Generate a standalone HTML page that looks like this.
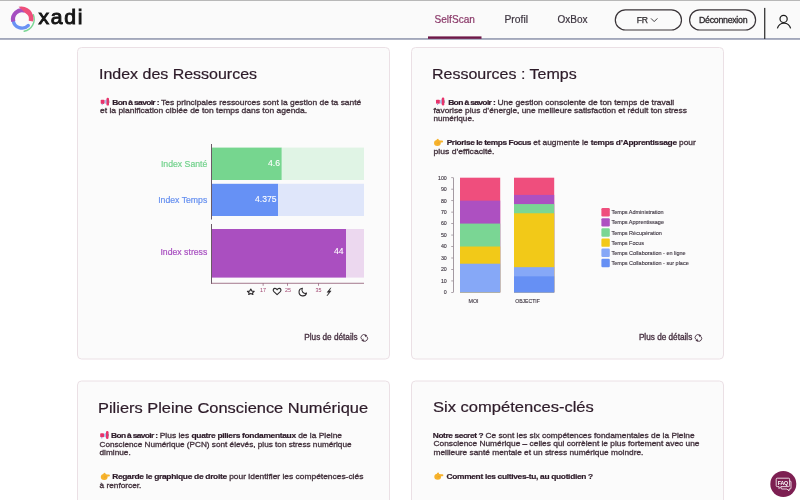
<!DOCTYPE html>
<html><head><meta charset="utf-8">
<style>
*{margin:0;padding:0}
html,body{width:800px;height:500px;overflow:hidden;background:#fff}
svg{position:absolute;left:0;top:0;font-family:"Liberation Sans",sans-serif;will-change:transform}
.t{font-size:14.8px;fill:#2d1b29;stroke:#2d1b29;stroke-width:0.2px}
.p{font-size:7.75px;fill:#45343f;stroke:#45343f;stroke-width:0.32px}
.b{font-weight:bold;fill:#2d1b29;stroke:#2d1b29;stroke-width:0.2px;letter-spacing:-0.28px}
</style></head><body>
<svg width="800" height="500" viewBox="0 0 800 500">

<defs>
<g id="mega">
  <path d="M4.4 2.7 L6.9 1.4 L6.9 6.6 L4.4 5.3 Z" fill="#aebde6"/>
  <rect x="0.7" y="2" width="3.8" height="4.1" rx="0.8" fill="#e8336b"/>
  <rect x="1.7" y="5.8" width="1.1" height="1.5" fill="#9fb0e0"/>
  <rect x="6.5" y="-0.1" width="2.5" height="7.9" rx="1.2" fill="#e8336b"/>
  <rect x="8.7" y="2.6" width="0.6" height="2.6" fill="#7a6a7e"/>
</g>
<g id="hand">
  <ellipse cx="3.4" cy="4.5" rx="3.4" ry="3" fill="#f6b22c"/>
  <rect x="3.4" y="1.9" width="5.7" height="2.1" rx="1.05" fill="#f6b22c"/>
  <path d="M2 2.6 Q3 -0.5 4.5 0.4 Q5 1.6 4.8 2.9 Z" fill="#f6b22c"/>
  <path d="M3.3 4.7 Q4.4 4.1 5.6 4.4" stroke="#dd9020" stroke-width="0.45" fill="none"/>
</g>
</defs>
<!-- header -->
<rect x="0" y="0" width="800" height="39.5" fill="#fafafa"/>
<rect x="0" y="0" width="800" height="0.8" fill="#a8a8a8"/>
<rect x="0" y="38.2" width="800" height="1.5" fill="#8d93ab"/>

<!-- logo -->

<g fill="none">
<path d="M33.31 14.63 A12.2 12.2 0 0 1 24.12 31.21" stroke="#7ad694" stroke-width="1.4" stroke-linecap="round"/>
<path d="M28.29 25.49 A8.9 8.9 0 0 1 13.19 20.44" stroke="#6a92f4" stroke-width="3.3" stroke-linecap="round"/>
<path d="M13.31 21.53 A9 9 0 0 1 25.37 10.86" stroke="#a54fc0" stroke-width="4.2"/>
<path d="M18.58 6.78 A12 12 0 0 1 33.05 21.55 L28.75 20.63 A6.9 6.9 0 0 0 25.24 13.11 Z" fill="#ee4f7a"/>
</g>
<text transform="translate(38.4 23.9) scale(1.07 1)" x="0" y="0" font-size="19.8" fill="#141414" stroke="#141414" stroke-width="0.9" letter-spacing="1.6">xadi</text>

<!-- nav -->
<text x="434.5" y="22.9" font-size="10.1" fill="#8b3a6a" stroke="#8b3a6a" stroke-width="0.2">SelfScan</text>
<rect x="428" y="36.4" width="53.5" height="2.4" fill="#6e1848"/>
<text x="504.5" y="22.9" font-size="10.3" fill="#3d3540" stroke="#3d3540" stroke-width="0.2">Profil</text>
<text x="557.5" y="22.9" font-size="10" fill="#3d3540" stroke="#3d3540" stroke-width="0.2">OxBox</text>
<rect x="615.3" y="9.8" width="66.2" height="20.2" rx="10.1" fill="none" stroke="#3a3438" stroke-width="1.2"/>
<text x="636.8" y="22.8" font-size="8.6" fill="#2e2a2e" stroke="#2e2a2e" stroke-width="0.25" letter-spacing="-0.4">FR</text>
<path d="M651 18.4 L654.2 21.6 L657.4 18.4" fill="none" stroke="#2e2a2e" stroke-width="0.9"/>
<rect x="689.6" y="9.8" width="66" height="20.2" rx="10.1" fill="none" stroke="#3a3438" stroke-width="1.2"/>
<text x="699" y="22.8" font-size="8.8" fill="#2e2a2e" stroke="#2e2a2e" stroke-width="0.3" letter-spacing="-0.28">Déconnexion</text>
<rect x="764.2" y="7.9" width="1.1" height="31" fill="#141414"/>
<circle cx="783.6" cy="18.9" r="3.6" fill="none" stroke="#1a1a1a" stroke-width="1.2"/>
<path d="M777.4 28.4 A6.8 6.8 0 0 1 790.6 28.4" fill="none" stroke="#1a1a1a" stroke-width="1.2"/>

<!-- cards -->
<rect x="77.5" y="47.5" width="312" height="311.5" rx="4" fill="#fbfbfb" stroke="#ebe0e5" stroke-width="1"/>
<rect x="411.5" y="47.5" width="312" height="311.5" rx="4" fill="#fbfbfb" stroke="#ebe0e5" stroke-width="1"/>
<rect x="77.5" y="381" width="312" height="140" rx="4" fill="#fbfbfb" stroke="#ebe0e5" stroke-width="1"/>
<rect x="411.5" y="381" width="312" height="140" rx="4" fill="#fbfbfb" stroke="#ebe0e5" stroke-width="1"/>

<!-- titles -->
<text class="t" transform="translate(99.00 78.5) scale(1.0800 1)" x="0" y="0">Index des Ressources</text>
<text class="t" transform="translate(432.00 78.6) scale(1.0831 1)" x="0" y="0">Ressources : Temps</text>
<text class="t" transform="translate(98.00 412.5) scale(1.1098 1)" x="0" y="0">Piliers Pleine Conscience Numérique</text>
<text class="t" transform="translate(433.00 412.3) scale(1.1179 1)" x="0" y="0">Six compétences-clés</text>

<!-- card1 text -->
<text class="p" transform="translate(112.22 104.9) scale(1.0905 1)" x="0" y="0"><tspan class="b" style="letter-spacing:-0.6px">Bon à savoir :</tspan> Tes principales ressources sont la gestion de ta santé</text>
<text class="p" transform="translate(100.00 113.3) scale(1.0960 1)" x="0" y="0">et la planification ciblée de ton temps dans ton agenda.</text>

<!-- card2 text -->
<text class="p" transform="translate(448.14 104.8) scale(1.0995 1)" x="0" y="0"><tspan class="b" style="letter-spacing:-0.6px">Bon à savoir :</tspan> Une gestion consciente de ton temps de travail</text>
<text class="p" transform="translate(433.50 113.2) scale(1.0792 1)" x="0" y="0">favorise plus d’énergie, une meilleure satisfaction et réduit ton stress</text>
<text class="p" transform="translate(433.50 121.3) scale(1.0493 1)" x="0" y="0">numérique.</text>
<text class="p" transform="translate(446.72 145.3) scale(1.0783 1)" x="0" y="0"><tspan class="b" style="letter-spacing:-0.4px">Priorise le temps Focus</tspan> et augmente le <tspan class="b">temps d’Apprentissage</tspan> pour</text>
<text class="p" transform="translate(433.50 153.7) scale(1.1100 1)" x="0" y="0">plus d’efficacité.</text>

<!-- card3 text -->
<text class="p" transform="translate(111.00 438.3) scale(1.0847 1)" x="0" y="0"><tspan class="b" style="letter-spacing:-0.6px">Bon à savoir :</tspan> Plus les <tspan class="b">quatre piliers fondamentaux</tspan> de la Pleine</text>
<text class="p" transform="translate(99.50 446.6) scale(1.0564 1)" x="0" y="0">Conscience Numérique (PCN) sont élevés, plus ton stress numérique</text>
<text class="p" transform="translate(99.50 454.8) scale(1.0677 1)" x="0" y="0">diminue.</text>
<text class="p" transform="translate(112.14 479.2) scale(1.0878 1)" x="0" y="0"><tspan class="b">Regarde le graphique de droite</tspan> pour identifier les compétences-clés</text>
<text class="p" transform="translate(99.50 487.5) scale(1.0710 1)" x="0" y="0">à renforcer.</text>

<!-- card4 text -->
<text class="p" transform="translate(432.78 437.9) scale(1.0775 1)" x="0" y="0"><tspan class="b" style="letter-spacing:-0.38px">Notre secret ?</tspan> Ce sont les six compétences fondamentales de la Pleine</text>
<text class="p" transform="translate(433.50 446.3) scale(1.0800 1)" x="0" y="0">Conscience Numérique – celles qui corrèlent le plus fortement avec une</text>
<text class="p" transform="translate(433.50 454.6) scale(1.0749 1)" x="0" y="0">meilleure santé mentale et un stress numérique moindre.</text>
<text class="p" transform="translate(446.50 479) scale(1.0800 1)" x="0" y="0"><tspan class="b">Comment les cultives-tu, au quotidien ?</tspan></text>


<!-- chart1 -->
<text x="207.3" y="166.6" font-size="8.7" fill="#72d28c" stroke="#72d28c" stroke-width="0.2" text-anchor="end">Index Santé</text>
<text x="207.3" y="202.6" font-size="8.7" fill="#6690f0" stroke="#6690f0" stroke-width="0.2" text-anchor="end">Index Temps</text>
<text x="207.3" y="254.7" font-size="8.7" fill="#a84fc0" stroke="#a84fc0" stroke-width="0.2" text-anchor="end">Index stress</text>
<rect x="211" y="144" width="1" height="75.5" fill="#6a5a66"/>
<rect x="212" y="147.6" width="69.8" height="32.4" fill="#76d68f"/>
<rect x="281.8" y="147.6" width="82.2" height="32.4" fill="#e0f4e5"/>
<rect x="212" y="183.8" width="66.2" height="32.2" fill="#6691f5"/>
<rect x="278.2" y="183.8" width="85.8" height="32.2" fill="#dfe6fa"/>
<rect x="211" y="224" width="1" height="60" fill="#6a5a66"/>
<rect x="212" y="229" width="134" height="48.6" fill="#aa4fc0"/>
<rect x="346" y="229" width="18" height="48.6" fill="#ecd8ef"/>
<rect x="211" y="282.8" width="153" height="0.9" fill="#9a6a80"/>
<rect x="262.7" y="283" width="0.8" height="2.8" fill="#9a6a80"/>
<rect x="287.1" y="283" width="0.8" height="2.8" fill="#9a6a80"/>
<rect x="318" y="283" width="0.8" height="2.8" fill="#9a6a80"/>
<text x="280" y="165.8" font-size="8.6" fill="#fff" stroke="#fff" stroke-width="0.1" text-anchor="end">4.6</text>
<text x="276.5" y="201.6" font-size="8.6" fill="#fff" stroke="#fff" stroke-width="0.1" text-anchor="end">4.375</text>
<text x="343.5" y="254.2" font-size="8.6" fill="#fff" stroke="#fff" stroke-width="0.1" text-anchor="end">44</text>
<text x="263.1" y="291.6" font-size="5.4" fill="#a0456f" text-anchor="middle">17</text>
<text x="288.1" y="291.6" font-size="5.4" fill="#a0456f" text-anchor="middle">25</text>
<text x="318.5" y="291.6" font-size="5.4" fill="#a0456f" text-anchor="middle">35</text>


<g fill="none" stroke="#2d2a2d" stroke-width="1.1" stroke-linejoin="round" stroke-linecap="round">
<path d="M250.8 289 L251.9 291.1 L254.2 291.3 L252.6 292.9 L252.9 294.5 L250.8 293.4 L248.7 294.5 L249.1 292.9 L247.4 291.3 L249.7 291.1 Z"/>
<path d="M277.1 294.6 L273.9 291.6 C272.6 290.3 273.3 288.4 275 288.4 C276 288.4 276.7 289.1 277.1 289.8 C277.5 289.1 278.2 288.4 279.2 288.4 C280.9 288.4 281.6 290.3 280.3 291.6 Z"/>
<path d="M302.4 288.3 A3.8 3.8 0 1 0 306.5 293.1 A3.3 3.3 0 0 1 302.4 288.3 Z"/>
</g>
<path d="M330.8 287.8 L327.1 292.3 L329.1 292.3 L327 295.9 L331.1 290.9 L329.2 290.9 Z" fill="#2d2a2d" stroke="#2d2a2d" stroke-width="0.5" stroke-linejoin="round"/>


<!-- chart2 -->
<rect x="453" y="177.6" width="0.9" height="114.8" fill="#9a8f98"/>
<rect x="451.2" y="292.00" width="2" height="0.8" fill="#9a8f98"/>
<text x="446.8" y="294.30" font-size="5.3" fill="#3d3540" stroke="#3d3540" stroke-width="0.12" text-anchor="end">0</text>
<rect x="451.2" y="280.53" width="2" height="0.8" fill="#9a8f98"/>
<text x="446.8" y="282.83" font-size="5.3" fill="#3d3540" stroke="#3d3540" stroke-width="0.12" text-anchor="end">10</text>
<rect x="451.2" y="269.06" width="2" height="0.8" fill="#9a8f98"/>
<text x="446.8" y="271.36" font-size="5.3" fill="#3d3540" stroke="#3d3540" stroke-width="0.12" text-anchor="end">20</text>
<rect x="451.2" y="257.59" width="2" height="0.8" fill="#9a8f98"/>
<text x="446.8" y="259.89" font-size="5.3" fill="#3d3540" stroke="#3d3540" stroke-width="0.12" text-anchor="end">30</text>
<rect x="451.2" y="246.12" width="2" height="0.8" fill="#9a8f98"/>
<text x="446.8" y="248.42" font-size="5.3" fill="#3d3540" stroke="#3d3540" stroke-width="0.12" text-anchor="end">40</text>
<rect x="451.2" y="234.65" width="2" height="0.8" fill="#9a8f98"/>
<text x="446.8" y="236.95" font-size="5.3" fill="#3d3540" stroke="#3d3540" stroke-width="0.12" text-anchor="end">50</text>
<rect x="451.2" y="223.18" width="2" height="0.8" fill="#9a8f98"/>
<text x="446.8" y="225.48" font-size="5.3" fill="#3d3540" stroke="#3d3540" stroke-width="0.12" text-anchor="end">60</text>
<rect x="451.2" y="211.71" width="2" height="0.8" fill="#9a8f98"/>
<text x="446.8" y="214.01" font-size="5.3" fill="#3d3540" stroke="#3d3540" stroke-width="0.12" text-anchor="end">70</text>
<rect x="451.2" y="200.24" width="2" height="0.8" fill="#9a8f98"/>
<text x="446.8" y="202.54" font-size="5.3" fill="#3d3540" stroke="#3d3540" stroke-width="0.12" text-anchor="end">80</text>
<rect x="451.2" y="188.77" width="2" height="0.8" fill="#9a8f98"/>
<text x="446.8" y="191.07" font-size="5.3" fill="#3d3540" stroke="#3d3540" stroke-width="0.12" text-anchor="end">90</text>
<rect x="451.2" y="177.30" width="2" height="0.8" fill="#9a8f98"/>
<text x="446.8" y="179.60" font-size="5.3" fill="#3d3540" stroke="#3d3540" stroke-width="0.12" text-anchor="end">100</text>
<rect x="460" y="177.70" width="40.2" height="114.70" fill="#ef4e7d"/>
<rect x="460" y="200.64" width="40.2" height="91.76" fill="#ad50c1"/>
<rect x="460" y="223.58" width="40.2" height="68.82" fill="#7ad694"/>
<rect x="460" y="246.52" width="40.2" height="45.88" fill="#f2c918"/>
<rect x="460" y="263.72" width="40.2" height="28.68" fill="#86a8f7"/>
<rect x="514" y="177.70" width="40.2" height="114.70" fill="#ef4e7d"/>
<rect x="514" y="194.90" width="40.2" height="97.50" fill="#ad50c1"/>
<rect x="514" y="204.08" width="40.2" height="88.32" fill="#7ad694"/>
<rect x="514" y="213.26" width="40.2" height="79.14" fill="#f2c918"/>
<rect x="514" y="267.17" width="40.2" height="25.23" fill="#86a8f7"/>
<rect x="514" y="276.34" width="40.2" height="16.06" fill="#6690f4"/>
<text x="468.5" y="303" font-size="5.3" fill="#3d3540" stroke="#3d3540" stroke-width="0.12">MOI</text>
<text x="515.2" y="303" font-size="5.1" fill="#3d3540" stroke="#3d3540" stroke-width="0.12">OBJECTIF</text>
<rect x="601.4" y="208.00" width="8.4" height="8.4" rx="1.2" fill="#ef4e7d"/>
<text x="611.4" y="214.20" font-size="5.5" fill="#3d3540" stroke="#3d3540" stroke-width="0.12">Temps Administration</text>
<rect x="601.4" y="218.15" width="8.4" height="8.4" rx="1.2" fill="#ad50c1"/>
<text x="611.4" y="224.35" font-size="5.5" fill="#3d3540" stroke="#3d3540" stroke-width="0.12">Temps Apprentissage</text>
<rect x="601.4" y="228.30" width="8.4" height="8.4" rx="1.2" fill="#7ad694"/>
<text x="611.4" y="234.50" font-size="5.5" fill="#3d3540" stroke="#3d3540" stroke-width="0.12">Temps Récupération</text>
<rect x="601.4" y="238.45" width="8.4" height="8.4" rx="1.2" fill="#f2c918"/>
<text x="611.4" y="244.65" font-size="5.5" fill="#3d3540" stroke="#3d3540" stroke-width="0.12">Temps Focus</text>
<rect x="601.4" y="248.60" width="8.4" height="8.4" rx="1.2" fill="#86a8f7"/>
<text x="611.4" y="254.80" font-size="5.5" fill="#3d3540" stroke="#3d3540" stroke-width="0.12">Temps Collaboration - en ligne</text>
<rect x="601.4" y="258.75" width="8.4" height="8.4" rx="1.2" fill="#6690f4"/>
<text x="611.4" y="264.95" font-size="5.5" fill="#3d3540" stroke="#3d3540" stroke-width="0.12">Temps Collaboration - sur place</text>
<!-- plus de details -->
<text transform="translate(304.30 340) scale(0.99 1)" x="0" y="0" font-size="8.3" fill="#4a3444" stroke="#4a3444" stroke-width="0.35">Plus de détails</text>
<text transform="translate(638.90 340) scale(0.99 1)" x="0" y="0" font-size="8.3" fill="#4a3444" stroke="#4a3444" stroke-width="0.35">Plus de détails</text>


<use href="#mega" x="100" y="97.8"/>
<use href="#mega" x="435.3" y="97.7"/>
<use href="#mega" x="99.5" y="431.2"/>
<use href="#hand" x="434" y="138.6"/>
<use href="#hand" x="100.8" y="472.5"/>
<use href="#hand" x="434.3" y="472.3"/>
<g id="rot"><g fill="none" stroke="#4a3444" stroke-width="0.9">
<path d="M362 339.6 A2.7 2.7 0 0 1 365.6 335.3"/>
<path d="M366.6 336.3 A2.7 2.7 0 0 1 363 340.6"/>
</g>
<path d="M364.6 334.2 L367.2 335.2 L365.4 337.3 Z" fill="#4a3444"/>
<path d="M364 341.7 L361.4 340.7 L363.2 338.6 Z" fill="#4a3444"/></g>
<use href="#rot" x="334.1" y="0"/>

<!-- FAQ -->
<circle cx="783.3" cy="484" r="13" fill="#7d1f52"/>
<g fill="none" stroke="#fff" stroke-width="0.8" stroke-linejoin="round">
<path d="M779 486.6 L779 488.6 L781 486.6 L788.6 486.6 Q789.6 486.6 789.6 485.6 L789.6 479.2 Q789.6 478.2 788.6 478.2 L777.2 478.2 Q776.2 478.2 776.2 479.2 L776.2 485.6 Q776.2 486.6 777.2 486.6 Z"/>
<path d="M789.6 481 L790 481 Q791 481 791 482 L791 488 Q791 489 790 489 L789 489 L789 491 L787 489 L782 489 Q781 489 781 488 L781 486.6"/>
</g>
<text x="782.9" y="484.6" font-size="5.2" font-weight="bold" fill="#fff" text-anchor="middle" letter-spacing="-0.2">FAQ</text>


</svg>
</body></html>
